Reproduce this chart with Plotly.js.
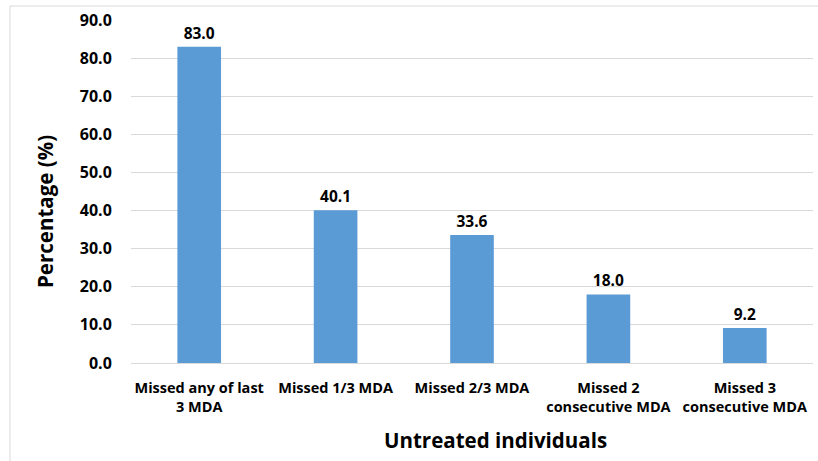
<!DOCTYPE html>
<html>
<head>
<meta charset="utf-8">
<script src="https://cdn.plot.ly/plotly-3.0.1.min.js"></script>
<style>
  html, body { margin: 0; padding: 0; background: #fff; }
  #chart { width: 818px; height: 461px; }
</style>
</head>
<body>
<div id="chart"></div>
<script>
// Share of untreated individuals by missed-MDA pattern
const categories = [
  "Missed any of last<br>3 MDA",
  "Missed 1/3 MDA",
  "Missed 2/3 MDA",
  "Missed 2<br>consecutive MDA",
  "Missed 3<br>consecutive MDA"
];
const percentages = [83.0, 40.1, 33.6, 18.0, 9.2];
const yTicks = [0, 10, 20, 30, 40, 50, 60, 70, 80, 90];
const xTitle = "Untreated individuals";
const yTitle = "Percentage (%)";

const fontFamily = "'Open Sans', 'Liberation Sans', sans-serif";
const plotW = 682, plotH = 343, marginL = 131, marginT = 20;

const trace = {
  type: "bar",
  x: categories,
  y: percentages,
  marker: { color: "#5B9BD5" },
  text: percentages.map(v => v.toFixed(1)),
  textposition: "outside",
  textfont: { family: fontFamily, size: 15.5, color: "#000", weight: "bold" },
  cliponaxis: false,
  hoverinfo: "x+y"
};

const layout = {
  width: 818,
  height: 461,
  margin: { l: marginL, r: 5, t: marginT, b: 98 },
  paper_bgcolor: "#fff",
  plot_bgcolor: "#fff",
  bargap: 0.68,
  showlegend: false,
  font: { family: fontFamily, color: "#000" },
  xaxis: {
    tickfont: { family: fontFamily, size: 14.5, color: "#000", weight: "bold" },
    showline: false,
    ticks: "outside",
    ticklen: 12,
    tickcolor: "rgba(0,0,0,0)"
  },
  yaxis: {
    range: [0, 90],
    tickvals: yTicks,
    tickformat: ".1f",
    tickfont: { family: fontFamily, size: 16, color: "#000", weight: "bold" },
    showgrid: true,
    gridcolor: "#d9d9d9",
    gridwidth: 1,
    zeroline: true,
    zerolinecolor: "#d9d9d9",
    zerolinewidth: 1,
    ticks: "outside",
    ticklen: 15,
    tickcolor: "rgba(0,0,0,0)"
  },
  annotations: [
    {
      text: xTitle, xref: "paper", yref: "paper",
      x: (495 - marginL) / plotW, y: -(440 - marginT - plotH) / plotH,
      xanchor: "center", yanchor: "middle", showarrow: false,
      font: { family: fontFamily, size: 20.5, color: "#000", weight: "bold" }
    },
    {
      text: yTitle, xref: "paper", yref: "paper", textangle: -90,
      x: (45 - marginL) / plotW, y: 1 - (212 - marginT) / plotH,
      xanchor: "center", yanchor: "middle", showarrow: false,
      font: { family: fontFamily, size: 20.5, color: "#000", weight: "bold" }
    }
  ],
  shapes: [
    {
      type: "rect", xref: "paper", yref: "paper",
      x0: -121 / plotW, x1: 1.02, y0: -0.3, y1: 1 + 14 / plotH,
      line: { color: "#d9d9d9", width: 1 },
      fillcolor: "rgba(0,0,0,0)",
      layer: "below"
    }
  ]
};

Plotly.newPlot("chart", [trace], layout, { displayModeBar: false, staticPlot: true });
</script>
</body>
</html>
